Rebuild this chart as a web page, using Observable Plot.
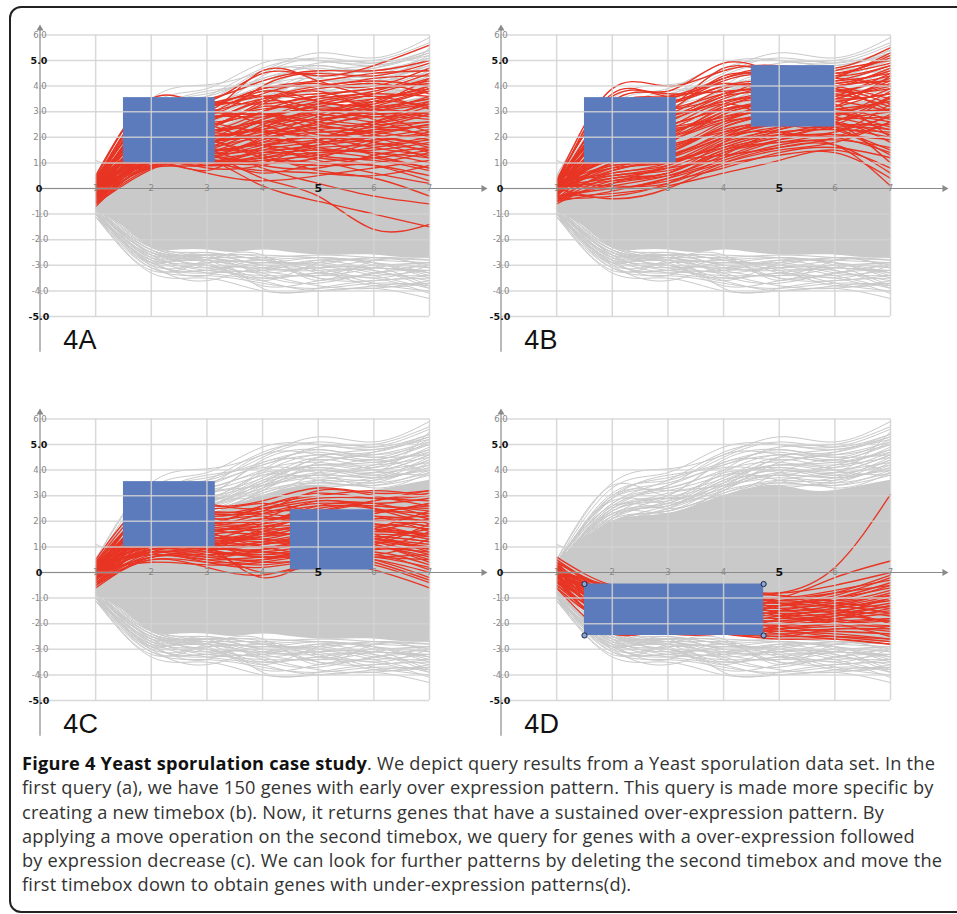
<!DOCTYPE html>
<html><head><meta charset="utf-8">
<script src="https://cdn.jsdelivr.net/npm/d3@7"></script>
<script src="https://cdn.jsdelivr.net/npm/@observablehq/plot@0.6"></script>
<style>
body{margin:0;background:#fff;}
#page{position:relative;width:957px;height:914px;overflow:hidden;background:#fff;}
#frame{position:absolute;left:9px;top:6px;width:990px;height:907px;border:2px solid #222;border-radius:12px;box-sizing:border-box;}
.panel{position:absolute;}
#caption{position:absolute;left:22px;top:751px;font-family:"Open Sans",sans-serif;font-size:18.2px;letter-spacing:0.22px;line-height:24.3px;color:#333;white-space:nowrap;}
#caption b{color:#111;}
</style></head><body>
<div id="page">
<div id="frame"></div>
<div id="pA" class="panel" style="left:0px;top:0px"></div>
<div id="pB" class="panel" style="left:460.5px;top:0px"></div>
<div id="pC" class="panel" style="left:0px;top:384px"></div>
<div id="pD" class="panel" style="left:460.5px;top:384px"></div>
<div id="caption"></div>
</div>
<script>
// ---- data ----
const timePoints = [1, 2, 3, 4, 5, 6, 7];
const xTicks = [1, 2, 3, 4, 5, 6, 7];
const yGrid = [-5, -4, -3, -2, -1, 0, 1, 2, 3, 4, 5, 6];
const yTickLabels = [
  {v: 6, t: "6.0"}, {v: 4, t: "4.0"}, {v: 3, t: "3.0"}, {v: 2, t: "2.0"}, {v: 1, t: "1.0"},
  {v: -1, t: "-1.0"}, {v: -2, t: "-2.0"}, {v: -3, t: "-3.0"}, {v: -4, t: "-4.0"}
];
const yBoldLabels = [{v: 5, t: "5.0"}, {v: 0, t: "0"}, {v: -5, t: "-5.0"}];

// dense core of the whole data set (gray band)
const coreX  = [1, 1.5, 2, 2.5, 3, 3.5, 4, 4.5, 5, 5.5, 6, 6.5, 7];
const coreHi = [0.5, 1.3, 2.0, 2.2, 2.3, 2.6, 3.0, 3.3, 3.4, 3.2, 3.2, 3.4, 3.6];
const coreLo = [-0.9, -1.5, -2.3, -2.4, -2.4, -2.5, -2.4, -2.5, -2.6, -2.6, -2.6, -2.7, -2.7];

// individual gray genes above the core
const grayUpper = [
  [0.5, 3.5, 4.05, 4.6, 5.3, 5.1, 5.9],
  [0.4, 3.3, 3.9, 4.9, 5.0, 4.9, 5.6],
  [0.3, 3.1, 3.6, 4.5, 5.1, 4.9, 5.4],
  [0.2, 2.9, 3.8, 4.2, 4.8, 4.5, 5.2],
  [0.5, 3.4, 3.0, 4.0, 4.9, 5.0, 5.7],
  [0.1, 2.7, 3.4, 4.6, 4.6, 4.4, 5.0],
  [0.3, 3.0, 3.2, 3.7, 4.5, 4.3, 4.8],
  [0.0, 2.5, 3.0, 4.3, 4.4, 4.7, 5.3],
  [0.4, 2.8, 2.7, 3.5, 4.2, 4.0, 4.6],
  [0.2, 2.6, 3.3, 3.9, 4.0, 4.1, 4.9],
  [0.1, 2.4, 2.9, 3.3, 4.3, 4.6, 5.1],
  [0.3, 2.9, 3.5, 4.1, 3.9, 3.8, 4.4],
  [0.0, 2.3, 2.6, 3.6, 3.8, 4.2, 4.7],
  [0.2, 2.2, 3.1, 3.4, 3.7, 3.6, 4.2],
  [0.4, 2.6, 2.5, 3.2, 4.1, 3.9, 5.5],
  [0.1, 2.1, 2.8, 3.8, 3.6, 3.4, 4.0],
  [-0.1, 2.0, 2.4, 3.1, 3.5, 3.7, 4.5],
  [0.3, 2.5, 2.9, 3.0, 3.9, 4.4, 3.9],
  [0.2, 2.3, 2.3, 2.9, 3.4, 3.5, 4.3],
  [0.0, 1.9, 2.6, 3.5, 4.4, 4.0, 3.8],
  [1.1, 0.2, -0.5, -0.8, -1.0, -1.2, -1.0],
  [0.2, 2.0, 2.2, 3.3, 4.5, 4.8, 5.2],
  [0.1, 1.8, 2.5, 3.6, 4.2, 4.3, 4.8],
  [0.3, 2.2, 2.7, 3.9, 4.6, 4.5, 4.6],
  [0.0, 2.0, 2.1, 2.8, 3.6, 3.9, 4.6],
  [0.2, 2.4, 3.0, 4.4, 4.8, 4.6, 5.0],
  [0.1, 1.7, 2.2, 3.2, 3.8, 3.3, 3.9],
  [0.4, 2.7, 3.6, 4.7, 5.0, 4.8, 5.4],
  [0.3, 2.1, 2.4, 3.4, 4.0, 3.7, 4.1],
  [0.0, 1.9, 2.3, 3.0, 3.3, 3.6, 4.4],
  [0.2, 2.0, 2.4, 3.1, 3.6, 3.5, 3.9],
  [0.1, 2.2, 2.6, 3.3, 3.8, 3.7, 4.1],
  [0.3, 2.4, 2.8, 3.4, 3.9, 4.0, 4.3],
  [0.0, 1.8, 2.5, 3.2, 3.5, 3.4, 3.8],
  [0.2, 2.6, 3.2, 3.8, 4.2, 4.2, 4.5],
  [0.4, 2.9, 3.3, 4.0, 4.3, 4.1, 4.7],
  [0.1, 2.3, 2.7, 3.7, 4.1, 3.9, 4.2],
  [0.3, 3.0, 3.7, 4.3, 4.7, 4.4, 5.1],
  [0.0, 2.1, 2.9, 3.5, 4.0, 3.8, 4.0],
  [0.2, 2.5, 3.4, 4.2, 4.6, 4.7, 5.3]
];
// individual gray genes below the core
const grayLower = [
  [-1.1, -3.3, -3.5, -4.0, -4.0, -3.9, -4.3],
  [-1.0, -3.1, -3.4, -3.7, -3.9, -3.7, -3.8],
  [-0.9, -2.9, -3.0, -3.8, -3.6, -3.5, -4.1],
  [-1.0, -3.2, -2.9, -3.3, -3.8, -3.9, -3.6],
  [-0.8, -2.7, -3.3, -3.5, -3.3, -3.2, -3.9],
  [-1.1, -3.0, -3.6, -3.1, -3.5, -3.6, -3.4],
  [-0.9, -2.8, -2.7, -3.4, -3.7, -3.3, -3.2],
  [-0.7, -2.6, -3.1, -3.0, -3.2, -3.8, -3.7],
  [-1.0, -2.9, -3.2, -2.9, -3.0, -3.4, -3.9],
  [-0.8, -2.5, -2.8, -3.2, -3.4, -3.0, -3.3],
  [-0.9, -2.7, -2.6, -2.8, -3.1, -3.5, -3.0],
  [-0.7, -2.4, -2.9, -3.6, -2.9, -2.9, -3.5],
  [-1.0, -2.8, -3.4, -2.7, -3.3, -3.1, -2.9],
  [-0.8, -2.6, -2.5, -3.0, -2.8, -3.2, -3.6],
  [-0.9, -3.0, -2.8, -2.6, -3.6, -2.8, -3.1],
  [-0.6, -2.3, -2.7, -2.9, -2.7, -3.0, -3.8],
  [-0.8, -2.5, -3.0, -3.3, -3.0, -2.7, -2.8],
  [-1.0, -2.9, -2.6, -3.9, -3.9, -3.6, -3.5],
  [-0.7, -2.2, -2.6, -2.7, -3.5, -3.3, -3.0],
  [-0.9, -2.4, -3.1, -3.2, -2.8, -2.9, -3.4],
  [-0.8, -2.4, -2.6, -2.6, -2.7, -2.8, -2.9],
  [-0.9, -2.5, -2.7, -2.7, -2.6, -2.7, -2.8],
  [-0.7, -2.3, -2.5, -2.8, -2.9, -2.7, -3.0],
  [-1.0, -2.6, -2.8, -2.9, -3.0, -3.1, -3.2],
  [-0.8, -2.5, -2.6, -3.0, -3.1, -3.0, -2.9],
  [-0.9, -2.7, -2.9, -2.8, -2.7, -2.9, -3.1],
  [-0.7, -2.4, -2.7, -3.1, -3.2, -3.1, -3.3],
  [-1.0, -2.8, -3.0, -3.1, -2.9, -3.3, -3.4],
  [-0.8, -2.6, -3.2, -3.4, -3.4, -3.4, -3.2],
  [-0.9, -2.9, -3.3, -3.2, -3.1, -2.8, -2.7],
  [-0.6, -2.3, -2.8, -3.5, -3.3, -3.7, -4.0],
  [-1.1, -3.1, -3.2, -3.6, -4.0, -3.8, -3.7]
];

// query results (red) for each panel
const redA = [
  [0.3, 3.3, 3.4, 4.5, 4.4, 4.8, 5.6],
  [0.2, 3.0, 3.5, 4.2, 4.6, 4.6, 5.0],
  [0.0, 2.8, 3.2, 3.9, 4.0, 4.3, 4.4],
  [0.1, 2.5, 3.0, 3.5, 3.7, 3.9, 4.2],
  [-0.2, 2.2, 2.9, 3.8, 3.4, 3.3, 3.9],
  [0.4, 2.7, 2.6, 3.0, 3.5, 3.7, 3.6],
  [-0.1, 2.0, 2.4, 3.2, 3.0, 3.4, 4.0],
  [0.2, 1.8, 2.8, 2.8, 3.2, 2.9, 3.3],
  [-0.3, 1.6, 2.2, 2.6, 2.7, 3.1, 3.5],
  [0.0, 1.5, 2.0, 2.4, 2.9, 2.6, 3.0],
  [-0.4, 1.3, 1.8, 2.2, 2.5, 2.8, 2.7],
  [0.1, 1.2, 1.6, 2.0, 2.2, 2.4, 2.9],
  [-0.2, 1.1, 1.4, 1.8, 2.0, 2.2, 2.5],
  [-0.5, 0.85, 1.0, 1.5, 1.8, 2.0, 2.3],
  [0.3, 1.4, 1.1, 1.2, 1.6, 1.7, 2.0],
  [-0.1, 1.0, 0.8, 0.9, 1.4, 1.5, 1.8],
  [-0.6, 0.75, 1.1, 0.6, 1.0, 1.2, 1.5],
  [0.0, 0.9, 0.6, 0.3, 0.5, 0.8, 1.1],
  [-0.3, 1.3, 1.2, 0.1, -0.5, -1.0, -1.5],
  [0.2, 1.5, 1.4, 0.4, -0.3, -1.6, -1.4],
  [-0.4, 1.2, 1.5, 0.8, 0.2, -0.3, -0.6],
  [0.1, 1.7, 1.9, 1.3, 0.7, 0.4, -0.3],
  [-0.2, 2.1, 2.5, 1.7, 1.2, 0.9, 0.3],
  [0.4, 2.4, 3.1, 2.5, 1.9, 1.3, 0.8],
  [-0.1, 1.9, 2.7, 2.9, 2.3, 1.8, 1.2],
  [0.0, 1.6, 2.3, 3.3, 3.8, 3.0, 2.2],
  [-0.3, 1.4, 2.1, 2.7, 3.3, 3.6, 3.1],
  [0.2, 2.6, 3.3, 3.6, 2.8, 2.5, 2.6],
  [-0.5, 1.1, 1.7, 2.3, 1.5, 1.9, 1.6],
  [0.3, 3.1, 3.0, 4.6, 4.2, 4.0, 4.7],
  [-0.2, 1.5, 1.2, 1.0, 1.9, 2.6, 3.4],
  [0.1, 2.3, 2.0, 2.1, 2.6, 3.2, 3.8],
  [-0.4, 0.8, 0.9, 1.4, 1.1, 0.6, 0.2],
  [0.0, 1.8, 1.5, 1.9, 2.4, 2.1, 1.7],
  [-0.6, 1.0, 0.7, 1.6, 1.3, 1.1, 0.7],
  [0.2, 2.9, 2.5, 3.4, 3.9, 4.1, 3.7],
  [-0.1, 2.0, 1.8, 2.6, 2.1, 2.3, 2.1],
  [0.4, 3.4, 2.9, 4.0, 4.5, 4.4, 4.9],
  [-0.3, 1.6, 1.9, 1.2, 0.9, 1.0, 1.4],
  [0.1, 1.3, 1.3, 2.0, 2.8, 3.3, 4.3],
  [0.5, 1.9, 2.2, 3.0, 3.6, 3.2, 3.4],
  [-0.7, 1.0, 1.4, 2.1, 2.3, 2.6, 3.2],
  [0.3, 2.1, 2.6, 3.4, 3.1, 2.8, 3.0],
  [-0.2, 1.4, 1.6, 2.5, 3.0, 3.5, 3.9],
  [0.1, 2.7, 3.2, 3.7, 4.1, 3.6, 4.0],
  [-0.4, 1.2, 1.5, 1.7, 1.9, 2.3, 2.6],
  [0.2, 1.7, 2.4, 2.9, 2.6, 2.4, 2.4],
  [-0.1, 1.1, 1.2, 1.4, 1.7, 1.9, 2.1],
  [0.4, 2.2, 2.1, 2.3, 2.7, 3.0, 3.3],
  [-0.3, 0.9, 1.0, 1.1, 1.3, 1.6, 1.9],
  [0.0, 1.3, 1.7, 2.7, 3.4, 3.8, 4.5],
  [0.3, 2.5, 2.8, 3.1, 3.3, 3.5, 3.8],
  [-0.5, 1.1, 1.3, 0.9, 0.8, 1.3, 1.6],
  [0.2, 3.2, 3.3, 3.9, 4.2, 4.5, 4.6],
  [-0.2, 1.6, 1.4, 1.6, 2.2, 2.0, 1.4],
  [0.1, 1.0, 0.9, 1.3, 1.5, 1.4, 1.0],
  [-0.6, 0.9, 1.2, 1.9, 2.4, 2.9, 2.8],
  [0.0, 2.0, 2.2, 2.0, 1.8, 2.1, 2.5],
  [0.4, 2.9, 3.4, 3.3, 3.6, 3.9, 4.1],
  [-0.3, 1.5, 1.1, 0.7, 0.6, 0.5, 0.9],
  [0.2, 1.2, 1.3, 1.0, 1.2, 1.8, 2.2],
  [-0.1, 2.4, 2.6, 2.2, 2.0, 1.6, 1.3],
  [0.3, 1.8, 2.0, 2.4, 3.1, 2.7, 2.0],
  [-0.4, 1.3, 1.5, 1.8, 2.6, 3.0, 3.6],
  [0.1, 2.6, 2.3, 2.6, 3.0, 3.1, 2.9],
  [-0.2, 1.0, 1.2, 1.7, 2.0, 1.8, 1.5],
  [0.0, 1.9, 1.6, 1.5, 1.7, 2.5, 3.0],
  [0.5, 3.5, 3.3, 3.6, 3.4, 3.2, 3.5],
  [-0.5, 1.4, 1.8, 2.0, 1.6, 1.4, 1.2],
  [0.2, 2.3, 2.7, 3.5, 4.0, 4.2, 4.0],
  [-0.1, 1.2, 0.9, 1.1, 1.0, 0.9, 0.5],
  [0.3, 1.6, 1.9, 2.8, 2.5, 2.2, 1.9],
  [-0.3, 1.1, 1.5, 2.3, 2.9, 3.4, 3.2],
  [0.1, 2.8, 3.0, 2.9, 3.2, 3.7, 4.3],
  [-0.6, 0.8, 1.1, 1.2, 1.4, 1.2, 0.8]
];
const redB = [
  [0.3, 3.9, 4.0, 4.6, 4.8, 4.7, 5.5],
  [0.2, 3.6, 3.8, 4.9, 4.5, 4.4, 5.2],
  [0.0, 3.2, 3.6, 4.3, 4.6, 4.5, 4.9],
  [0.1, 2.8, 3.3, 4.0, 4.2, 4.1, 4.6],
  [-0.2, 2.5, 3.1, 3.7, 3.9, 3.8, 4.3],
  [0.3, 2.2, 2.8, 3.4, 3.6, 3.6, 4.0],
  [-0.1, 2.0, 2.5, 3.1, 3.3, 3.4, 3.7],
  [0.2, 1.7, 2.2, 2.8, 3.0, 3.1, 3.4],
  [-0.3, 1.4, 1.9, 2.6, 2.8, 2.9, 3.1],
  [0.0, 1.2, 1.6, 2.3, 2.6, 2.7, 2.8],
  [-0.4, 1.0, 1.3, 2.0, 2.5, 2.5, 2.5],
  [0.1, 0.8, 1.0, 1.7, 2.2, 2.3, 2.2],
  [-0.2, 0.5, 0.7, 1.4, 2.0, 2.1, 1.9],
  [-0.5, 0.2, 0.5, 1.1, 1.7, 1.9, 1.6],
  [0.2, 0.0, 0.3, 0.8, 1.4, 1.6, 1.2],
  [-0.3, -0.2, 0.1, 0.6, 1.1, 1.5, 0.8],
  [0.0, -0.4, 0.0, 0.9, 1.3, 1.4, 0.4],
  [-0.6, 0.3, 0.6, 1.5, 1.8, 1.7, 0.1],
  [0.1, 1.1, 1.4, 2.5, 2.9, 2.6, 1.0],
  [-0.1, 1.5, 2.0, 3.2, 3.5, 3.3, 2.0],
  [0.3, 2.4, 2.9, 3.9, 4.1, 3.9, 3.0],
  [0.0, 1.9, 2.6, 3.6, 3.8, 4.3, 5.3],
  [-0.2, 1.3, 1.8, 2.9, 3.4, 3.9, 4.7],
  [0.2, 0.9, 1.2, 2.2, 2.7, 3.2, 4.4],
  [-0.4, 0.6, 0.9, 1.9, 2.4, 2.8, 3.8],
  [0.1, 0.4, 0.8, 1.6, 2.1, 2.2, 3.3],
  [-0.1, 2.1, 3.0, 4.4, 4.3, 4.0, 3.5],
  [0.2, 3.0, 3.5, 4.1, 3.6, 3.0, 2.6],
  [-0.3, 1.6, 2.3, 2.7, 3.1, 2.4, 1.5],
  [0.0, 0.7, 1.1, 1.3, 1.6, 2.0, 2.9],
  [0.3, 3.4, 3.7, 3.8, 4.0, 4.6, 5.0],
  [-0.2, 1.0, 1.5, 2.4, 3.0, 3.5, 4.1],
  [0.1, 2.6, 2.1, 3.0, 3.2, 2.8, 2.3],
  [-0.5, -0.1, 0.4, 1.0, 1.5, 1.8, 2.6],
  [0.0, 1.8, 2.4, 3.3, 2.6, 2.5, 3.6],
  [-0.1, 2.9, 3.2, 4.7, 4.4, 4.2, 4.5],
  [0.2, 0.6, 1.0, 2.0, 2.8, 3.0, 3.4],
  [-0.3, 0.1, 0.5, 1.3, 2.3, 2.7, 3.0],
  [0.1, 1.3, 1.8, 2.9, 3.3, 3.5, 4.2],
  [-0.1, 2.3, 2.7, 3.5, 4.0, 4.2, 4.8],
  [0.3, 3.3, 3.4, 4.2, 4.4, 3.8, 3.9],
  [0.0, 0.3, 0.6, 1.5, 2.1, 2.5, 2.1],
  [-0.4, -0.3, 0.2, 1.2, 1.9, 2.0, 1.4],
  [0.2, 1.8, 2.3, 3.3, 3.7, 3.7, 3.2],
  [-0.2, 1.0, 1.4, 2.4, 2.9, 3.1, 2.7],
  [0.1, 2.7, 3.1, 3.6, 4.4, 4.5, 5.1],
  [-0.5, 0.4, 0.6, 1.8, 2.6, 2.4, 2.0],
  [0.0, 1.6, 2.0, 2.7, 3.1, 3.2, 3.9],
  [0.3, 2.0, 2.2, 3.0, 3.4, 3.0, 2.4],
  [-0.1, 0.8, 1.3, 2.1, 2.7, 2.9, 3.5],
  [0.2, 2.5, 2.8, 3.7, 3.9, 4.0, 4.4],
  [-0.3, 0.0, 0.4, 1.4, 1.8, 2.2, 2.8],
  [0.1, 1.4, 1.6, 2.6, 3.2, 3.4, 3.0],
  [-0.2, 0.9, 1.0, 1.8, 2.3, 2.6, 1.8],
  [0.0, 3.1, 3.4, 4.0, 4.1, 4.3, 4.0],
  [0.2, 1.2, 1.7, 2.2, 2.5, 2.3, 1.3],
  [-0.4, 0.2, 0.9, 1.7, 2.4, 2.9, 3.1],
  [0.1, 2.2, 2.5, 3.2, 3.7, 3.5, 3.7],
  [-0.1, 1.7, 2.1, 3.1, 3.2, 3.6, 4.5],
  [0.3, 0.5, 0.8, 1.2, 1.9, 2.4, 2.3],
  [0.0, 1.1, 1.2, 2.0, 2.2, 2.0, 2.6],
  [-0.2, 2.6, 2.9, 3.4, 3.8, 3.9, 3.3],
  [0.2, 0.1, 0.2, 1.0, 1.6, 1.7, 0.6],
  [-0.3, 1.9, 2.4, 2.8, 3.4, 4.0, 4.2],
  [0.1, 3.7, 3.6, 4.3, 4.7, 4.4, 4.8],
  [-0.5, 0.7, 1.1, 1.6, 2.0, 2.6, 3.6]
];
const redC = [
  [0.3, 2.5, 2.6, 2.8, 3.3, 3.1, 3.2],
  [0.5, 2.8, 2.4, 2.6, 3.1, 2.9, 3.0],
  [0.1, 2.2, 2.2, 2.5, 2.9, 2.9, 2.8],
  [0.2, 2.0, 1.9, 2.3, 2.7, 2.6, 2.5],
  [-0.1, 1.8, 2.0, 2.0, 2.4, 2.8, 3.1],
  [0.0, 1.5, 1.7, 1.8, 2.2, 2.4, 2.3],
  [0.4, 1.6, 1.4, 1.5, 2.0, 2.2, 2.0],
  [-0.3, 1.2, 1.5, 1.3, 1.8, 1.9, 1.7],
  [0.2, 1.1, 1.2, 1.1, 1.5, 1.6, 1.5],
  [-0.5, 1.0, 1.0, 0.9, 1.2, 1.4, 1.2],
  [0.1, 0.9, 0.8, 0.7, 1.0, 1.2, 0.9],
  [-0.2, 0.8, 0.6, 0.5, 0.8, 1.0, 0.6],
  [-0.6, 0.6, 0.5, 0.3, 0.6, 0.8, 0.3],
  [0.0, 0.7, 0.4, 0.2, 0.5, 0.5, 0.0],
  [-0.4, 0.5, 0.2, -0.1, 0.4, 0.3, -0.4],
  [0.3, 1.3, 0.9, 0.0, 0.3, 0.1, -0.6],
  [-0.1, 1.4, 1.1, -0.2, 0.5, 0.4, -0.3],
  [0.2, 1.9, 1.6, 1.0, 0.7, 0.6, 0.2],
  [-0.3, 1.7, 1.8, 1.6, 1.4, 1.1, 0.5],
  [0.4, 2.3, 2.1, 2.2, 1.7, 1.3, 1.0],
  [0.0, 2.6, 2.5, 2.7, 2.3, 1.8, 1.4],
  [-0.2, 1.2, 1.3, 1.9, 2.6, 2.7, 2.2],
  [0.1, 0.9, 1.1, 1.4, 1.9, 2.3, 2.7],
  [-0.5, 0.6, 0.7, 0.8, 1.1, 1.7, 2.4],
  [0.2, 1.0, 0.9, 1.2, 1.6, 2.0, 1.8],
  [-0.1, 2.1, 2.3, 2.4, 3.2, 3.0, 2.6],
  [0.3, 1.5, 1.2, 0.6, 0.9, 0.7, 1.3],
  [-0.4, 0.7, 1.0, 1.7, 2.1, 1.5, 0.8],
  [0.0, 1.3, 1.6, 2.1, 2.8, 2.5, 1.9],
  [0.1, 0.4, 0.3, 0.4, 0.7, 0.9, 1.6],
  [-0.2, 1.8, 1.9, 2.6, 3.0, 3.2, 3.0],
  [0.2, 0.8, 0.6, 0.9, 1.3, 1.1, 0.4],
  [0.2, 1.4, 1.3, 1.6, 1.9, 2.1, 2.2],
  [-0.3, 0.9, 1.0, 1.2, 1.4, 1.5, 1.4],
  [0.1, 1.7, 1.6, 2.0, 2.3, 2.4, 2.6],
  [-0.1, 0.6, 0.7, 0.9, 1.1, 1.0, 0.8],
  [0.3, 2.0, 2.3, 2.3, 2.6, 2.5, 2.1],
  [0.0, 1.1, 0.9, 1.1, 1.3, 1.3, 1.1],
  [-0.4, 0.8, 0.9, 0.6, 0.9, 1.1, 1.9],
  [0.2, 2.4, 2.0, 1.9, 2.2, 2.2, 1.6],
  [-0.2, 1.5, 1.4, 1.4, 1.6, 1.8, 2.0],
  [0.1, 1.2, 1.0, 0.8, 0.7, 0.6, 0.5],
  [0.4, 2.7, 2.7, 2.5, 2.8, 2.7, 2.9],
  [-0.5, 0.5, 0.4, 0.5, 0.9, 1.3, 1.7],
  [0.0, 1.6, 1.8, 2.1, 2.0, 1.7, 1.3],
  [0.3, 1.0, 1.1, 1.0, 1.2, 1.6, 2.1],
  [-0.1, 2.2, 2.4, 2.3, 2.1, 2.3, 2.7],
  [0.2, 0.7, 0.5, 0.6, 0.6, 0.7, 0.1],
  [-0.3, 1.3, 1.5, 1.7, 1.7, 2.0, 1.8],
  [0.1, 1.9, 1.7, 1.5, 1.5, 1.2, 0.7],
  [-0.2, 0.9, 1.2, 1.3, 1.0, 0.9, 1.0],
  [0.0, 2.5, 2.2, 2.0, 2.5, 2.6, 2.4],
  [0.2, 0.8, 0.9, 1.5, 1.4, 1.4, 1.2],
  [-0.4, 1.1, 1.3, 1.1, 1.6, 1.7, 1.5],
  [0.3, 1.8, 1.4, 1.2, 1.1, 1.3, 0.9],
  [-0.1, 0.6, 0.8, 0.7, 0.8, 0.5, -0.2],
  [0.1, 2.1, 1.9, 1.8, 1.9, 2.1, 2.0],
  [-0.3, 1.4, 1.1, 1.6, 2.2, 1.9, 1.4],
  [0.0, 0.9, 0.7, 0.4, 0.5, 0.6, 0.7],
  [0.2, 1.6, 1.9, 2.4, 2.4, 2.8, 3.2]
];
const redD = [
  [0.6, -0.5, -0.6, -0.7, -0.8, -0.5, 0.0],
  [0.4, -0.6, -0.8, -0.9, -1.0, -0.7, -0.3],
  [0.2, -0.8, -1.0, -1.1, -1.2, -1.0, -0.6],
  [0.0, -1.0, -1.2, -1.3, -1.4, -1.2, -0.9],
  [-0.2, -1.2, -1.4, -1.5, -1.6, -1.5, -1.2],
  [-0.4, -1.4, -1.6, -1.7, -1.8, -1.7, -1.5],
  [0.1, -1.6, -1.8, -1.9, -2.0, -1.9, -1.8],
  [-0.1, -1.8, -2.0, -2.1, -2.2, -2.1, -2.1],
  [0.3, -2.0, -2.2, -2.3, -2.4, -2.3, -2.4],
  [-0.3, -2.2, -2.3, -2.4, -2.6, -2.6, -2.8],
  [0.5, -0.9, -1.3, -1.6, -1.3, -0.9, -0.2],
  [-0.5, -1.9, -1.7, -1.4, -1.1, -0.8, -0.5],
  [0.2, -1.1, -1.5, -2.0, -2.3, -2.4, -2.6],
  [-0.2, -1.5, -1.1, -0.8, -0.9, -1.4, -2.0],
  [0.4, -0.7, -1.1, -1.8, -1.9, -1.6, -1.0],
  [-0.6, -2.4, -2.1, -1.9, -1.5, -1.3, -1.6],
  [0.0, -1.3, -1.9, -2.2, -2.5, -2.2, -2.3],
  [-0.1, -0.7, -0.9, -1.2, -1.7, -2.0, -2.5],
  [0.3, -1.7, -2.4, -2.4, -2.1, -1.8, -1.4],
  [-0.3, -2.1, -1.6, -1.0, -0.9, -1.1, -0.7],
  [0.1, -1.0, -0.8, -1.5, -2.2, -2.5, -2.7],
  [-0.4, -1.6, -1.3, -2.1, -1.8, -1.4, -1.1],
  [0.2, -0.9, -1.0, -0.9, -0.8, 0.2, 3.05],
  [0.0, -1.2, -1.4, -1.2, -1.0, -0.2, 0.45],
  [0.5, -0.7, -0.9, -1.0, -1.1, -0.8, -0.1],
  [0.3, -0.9, -1.1, -1.2, -1.3, -1.1, -0.5],
  [0.1, -1.1, -1.3, -1.4, -1.5, -1.4, -1.0],
  [-0.1, -1.3, -1.5, -1.6, -1.7, -1.6, -1.3],
  [-0.3, -1.5, -1.7, -1.8, -1.9, -1.8, -1.6],
  [-0.5, -1.7, -1.9, -2.0, -2.1, -2.0, -1.9],
  [0.0, -1.9, -2.1, -2.2, -2.3, -2.2, -2.2],
  [0.2, -2.1, -2.3, -2.4, -2.5, -2.5, -2.6],
  [-0.2, -0.8, -1.0, -1.3, -1.5, -1.3, -0.8],
  [0.4, -1.4, -1.8, -2.1, -2.0, -1.7, -1.3],
  [-0.4, -1.2, -1.4, -1.7, -2.1, -2.3, -2.4],
  [0.1, -0.6, -0.7, -0.8, -1.2, -1.6, -1.9],
  [-0.6, -2.0, -1.8, -1.5, -1.3, -1.0, -0.4],
  [0.3, -1.6, -1.4, -1.1, -1.6, -1.9, -2.2],
  [-0.1, -2.3, -2.2, -2.0, -1.7, -1.5, -1.7],
  [0.0, -1.0, -1.3, -1.9, -2.4, -2.6, -2.8],
  [0.2, -1.3, -1.2, -1.0, -1.1, -1.2, -1.4],
  [-0.3, -1.8, -1.6, -1.3, -1.2, -1.3, -0.9],
  [0.1, -0.5, -0.6, -0.9, -1.4, -1.8, -2.1],
  [-0.2, -1.7, -2.0, -2.3, -2.2, -2.0, -1.8]
];

// timeboxes [x1, x2, y1, y2]
const boxesA = [[1.5, 3.15, 1.0, 3.55]];
const boxesB = [[1.5, 3.15, 1.0, 3.55], [4.5, 6.0, 2.4, 4.8]];
const boxesC = [[1.5, 3.15, 1.0, 3.55], [4.5, 6.0, 0.1, 2.45]];
const boxesD = [[1.5, 4.72, -2.46, -0.45]];
const panelLabels = ["4A", "4B", "4C", "4D"];

const captionLines = [
  "<b>Figure 4 Yeast sporulation case study</b>. We depict query results from a Yeast sporulation data set. In the",
  "first query (a), we have 150 genes with early over expression pattern. This query is made more specific by",
  "creating a new timebox (b). Now, it returns genes that have a sustained over-expression pattern. By",
  "applying a move operation on the second timebox, we query for genes with a over-expression followed",
  "by expression decrease (c). We can look for further patterns by deleting the second timebox and move the",
  "first timebox down to obtain genes with under-expression patterns(d)."
];

// ---- build ----
const toRows = (lines, p) => lines.flatMap((vals, i) => vals.map((v, j) => ({id: p + i, x: timePoints[j], y: v})));
const coreRows = coreX.map((x, i) => ({x, lo: coreLo[i], hi: coreHi[i]}));
const grayRows = toRows(grayUpper, "u").concat(toRows(grayLower, "l"));
const boxRows = b => b.map(([x1, x2, y1, y2]) => ({x1, x2, y1, y2}));

const GRAY = "#c9c9c9", RED = "#e83524", BLUE = "#5b7bbd", AX = "#8a8a8a";
const TF = "DejaVu Sans";

function panel(red, boxes, label, corners) {
  const bx = boxRows(boxes);
  const marks = [
    Plot.areaY(coreRows, {x: "x", y1: "lo", y2: "hi", fill: GRAY, curve: "natural"}),
    Plot.line(grayRows, {x: "x", y: "y", z: "id", stroke: GRAY, strokeWidth: 1, curve: "natural"}),
    Plot.line(toRows(red, "r"), {x: "x", y: "y", z: "id", stroke: RED, strokeWidth: 1.35, curve: "natural"}),
    Plot.rect(bx, {x1: "x1", x2: "x2", y1: "y1", y2: "y2", fill: BLUE}),
    Plot.ruleY(yGrid, {x1: 0, x2: 7, stroke: "#d2d2d2", strokeWidth: 1.5, strokeOpacity: 0.85}),
    Plot.ruleX(xTicks, {y1: -5, y2: 6, stroke: "#d2d2d2", strokeWidth: 1.5, strokeOpacity: 0.85}),
    Plot.ruleY([0], {x1: 0, x2: 7.95, stroke: AX, strokeWidth: 1.2}),
    Plot.ruleX([0], {y1: -6.4, y2: 6.25, stroke: AX, strokeWidth: 1.2}),
    Plot.dot([{x: 0, y: 6.25}], {x: "x", y: "y", symbol: "triangle", r: 2.6, fill: AX, stroke: null}),
    Plot.dot([{x: 7.97, y: 0}], {x: "x", y: "y", symbol: "triangle", r: 2.6, fill: AX, stroke: null, rotate: 90}),
    Plot.text(xTicks.filter(d => d !== 5), {x: d => d, y: 0, text: d => String(d), fontSize: 8.5, fill: "#888", fontFamily: TF}),
    Plot.text([5], {x: d => d, y: 0, text: d => String(d), fontSize: 11, fontWeight: "bold", fill: "#111", fontFamily: TF}),
    Plot.text(yTickLabels, {x: 0, y: "v", text: "t", fontSize: 8.5, fill: "#888", fontFamily: TF}),
    Plot.text(yBoldLabels, {x: 0, y: "v", text: "t", fontSize: 9.5, fontWeight: "bold", fill: "#111", fontFamily: TF, dx: -1}),
    Plot.text([label], {x: 0.42, y: -6.25, text: d => d, fontSize: 27, fill: "#111", fontFamily: "Liberation Sans", textAnchor: "start", lineAnchor: "bottom"})
  ];
  if (corners) {
    const pts = bx.flatMap(b => [{x: b.x1, y: b.y1}, {x: b.x1, y: b.y2}, {x: b.x2, y: b.y1}, {x: b.x2, y: b.y2}]);
    marks.push(Plot.dot(pts, {x: "x", y: "y", r: 2.6, fill: "#8ea6d6", stroke: "#1c2744", strokeWidth: 1}));
  }
  return Plot.plot({
    width: 480, height: 384,
    x: {domain: [0, 7], range: [39.5, 429], axis: null},
    y: {domain: [-5, 6], range: [316, 34.4], axis: null},
    style: {background: "transparent", overflow: "visible"},
    marks
  });
}

document.getElementById("pA").append(panel(redA, boxesA, panelLabels[0], false));
document.getElementById("pB").append(panel(redB, boxesB, panelLabels[1], false));
document.getElementById("pC").append(panel(redC, boxesC, panelLabels[2], false));
document.getElementById("pD").append(panel(redD, boxesD, panelLabels[3], true));
document.getElementById("caption").innerHTML = captionLines.join("<br>");
</script>
</body></html>
